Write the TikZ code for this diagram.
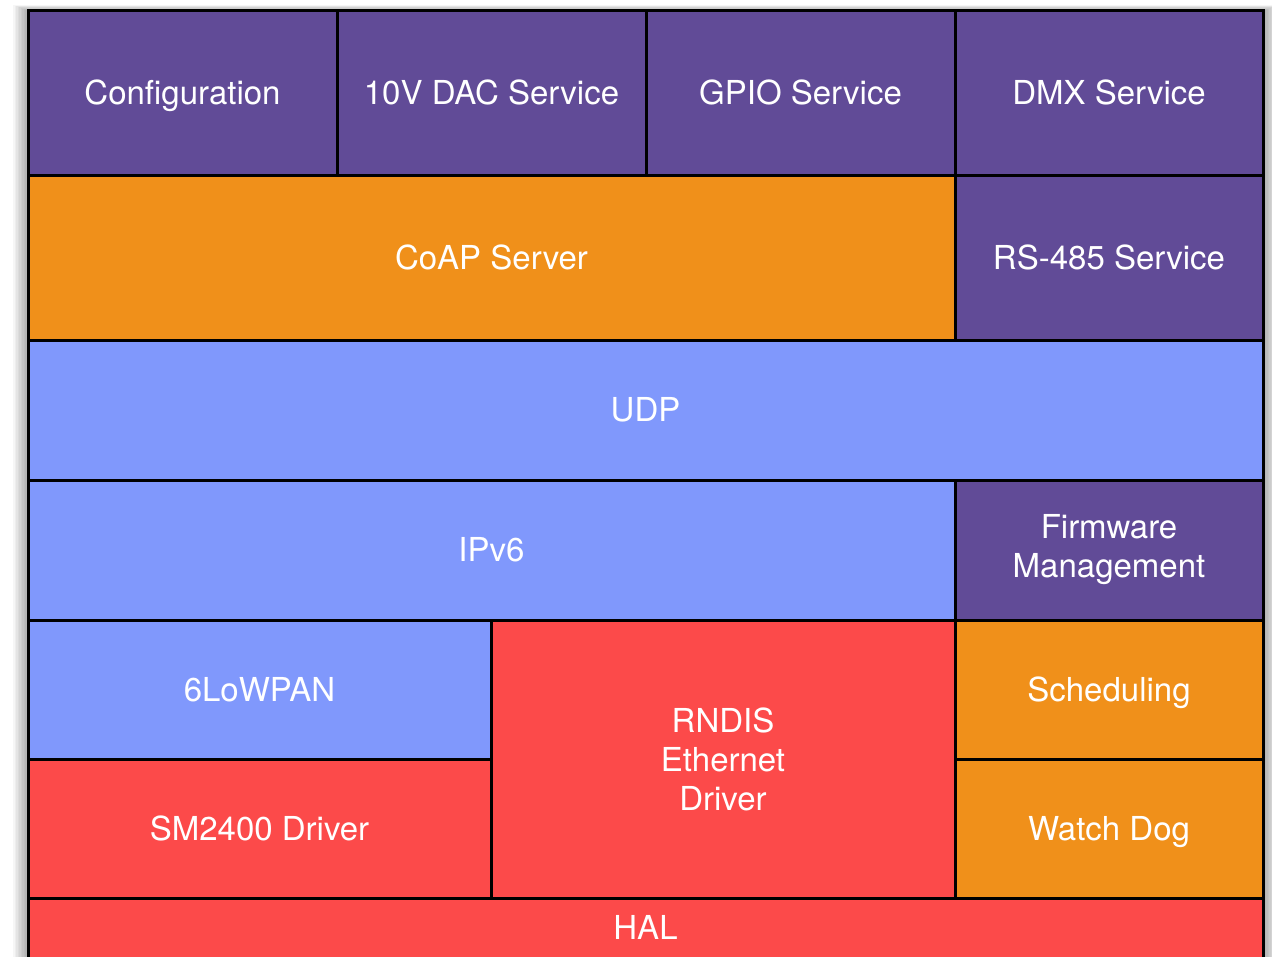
\documentclass[tikz,border=0pt]{standalone}
\usepackage{fontspec}
\setmainfont{TeX Gyre Heros}
\usetikzlibrary{positioning}

\definecolor{svcpurple}{RGB}{97,75,151}
\definecolor{coreorange}{RGB}{240,144,26}
\definecolor{netblue}{RGB}{128,152,252}
\definecolor{drvred}{RGB}{252,74,74}

\begin{document}
\begin{tikzpicture}[
    x=1pt, y=-1pt,
    block/.style={rectangle, draw=black, line width=3pt, text=white, inner sep=0pt,
                  align=center, font=\fontsize{33}{39}\selectfont,
                  text height=27pt, text depth=4pt},
    multiline/.style={text height={}, text depth={}},
    service/.style={block, fill=svcpurple},
    core/.style={block, fill=coreorange},
    network/.style={block, fill=netblue},
    driver/.style={block, fill=drvred}
]
\useasboundingbox (0,0) rectangle (1272,957);
\clip (0,0) rectangle (1272,957);
\fill[white] (0,0) rectangle (1272,957);

% Shadow
\foreach \i in {1,...,10}
    \fill[black, opacity=0.035] (28-1.5*\i,11-0.6*\i) rectangle (1263+1.5*\i,1000);

% Services
\node[service, minimum width=309, minimum height=165] (cfg) at (182.5,93.5) {Configuration};
\node[service, minimum width=309, minimum height=165] (dac) at (491.5,93.5) {10V DAC Service};
\node[service, minimum width=309, minimum height=165] (gpio) at (800.5,93.5) {GPIO Service};
\node[service, minimum width=308, minimum height=165] (dmx) at (1109,93.5) {DMX Service};

% CoAP
\node[core, minimum width=927, minimum height=165] (coap) at (491.5,258.5) {CoAP Server};
\node[service, minimum width=308, minimum height=165] (rs) at (1109,258.5) {RS-485 Service};

% Network
\node[network, minimum width=1235, minimum height=139] (udp) at (645.5,410.5) {UDP};
\node[network, minimum width=927, minimum height=140] (ipv6) at (491.5,550) {IPv6};
\node[service, multiline, minimum width=308, minimum height=140] (fw) at (1109,550) {Firmware\\Management};

% Drivers
\node[network, minimum width=463, minimum height=139] (lowpan) at (259.5,689.5) {6LoWPAN};
\node[driver, minimum width=463, minimum height=139] (sm) at (259.5,828.5) {SM2400 Driver};
\node[driver, multiline, minimum width=464, minimum height=278] (rndis) at (723,759) {RNDIS\\Ethernet\\Driver};
\node[core, minimum width=308, minimum height=139] (sched) at (1109,689.5) {Scheduling};
\node[core, minimum width=308, minimum height=139] (wdog) at (1109,828.5) {Watch Dog};

% HAL
\node[driver, minimum width=1235, minimum height=60] (hal) at (645.5,928) {HAL};

\end{tikzpicture}
\end{document}
